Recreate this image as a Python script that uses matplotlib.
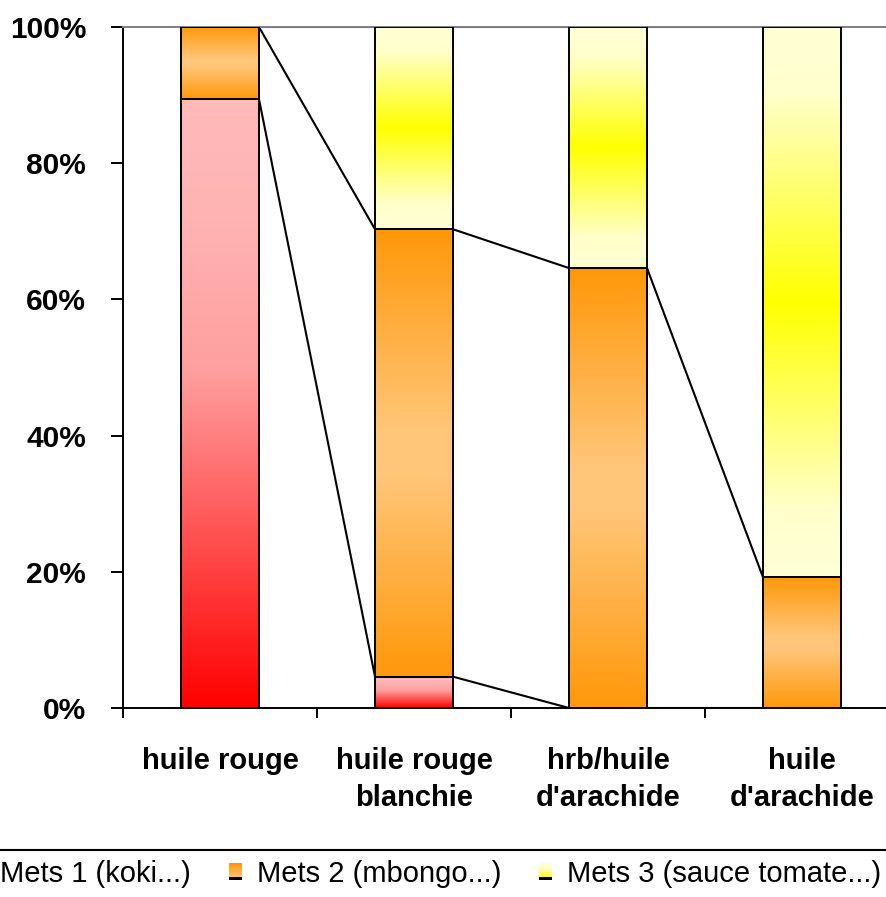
import numpy as np
import matplotlib
matplotlib.use('Agg')
import matplotlib.pyplot as plt
from matplotlib.colors import LinearSegmentedColormap
from matplotlib.patches import Rectangle
from matplotlib.legend_handler import HandlerBase
from matplotlib.lines import Line2D

plt.rcParams['font.family'] = ['Liberation Sans', 'DejaVu Sans']

# Share of each dish per oil type (%)
categories = ['huile rouge', 'huile rouge\nblanchie', "hrb/huile\nd'arachide", "huile\nd'arachide"]
mets1 = [89.4, 4.6, 0.0, 0.0]
mets2 = [10.6, 65.7, 64.6, 19.2]
mets3 = [0.0, 29.7, 35.4, 80.8]
series_names = ['Mets 1 (koki...)', 'Mets 2 (mbongo...)', 'Mets 3 (sauce tomate...)']
y_ticks = [0, 20, 40, 60, 80, 100]

# vertical fill gradients, bottom -> top
cmaps = [
    LinearSegmentedColormap.from_list('m1', [(0, '#ff0000'), (0.55, '#ff9e9e'),
                                             (0.8, '#ffb3b3'), (1, '#ffbaba')]),
    LinearSegmentedColormap.from_list('m2', [(0, '#ff980a'), (0.45, '#ffc679'),
                                             (0.55, '#ffc679'), (1, '#ff980a')]),
    LinearSegmentedColormap.from_list('m3', [(0, '#ffffd6'), (0.12, '#ffffcc'), (0.5, '#ffff00'),
                                             (0.88, '#ffffcc'), (1, '#ffffd6')]),
]


class GradientHandler(HandlerBase):
    def __init__(self, cmap):
        super().__init__()
        self.cmap = cmap

    def create_artists(self, legend, orig_handle, xdescent, ydescent,
                       width, height, fontsize, trans):
        arts = []
        n = 8
        for k in range(n):
            arts.append(Rectangle((-xdescent, -ydescent + height * k / n), width, height / n,
                                  facecolor=self.cmap(0.5 + 0.5 * k / (n - 1)),
                                  edgecolor='none', transform=trans))
        arts.append(Rectangle((-xdescent, -ydescent), width, height * 0.2,
                              facecolor='black', edgecolor='none', transform=trans))
        return arts


fig = plt.figure(figsize=(8.87, 8.97), dpi=100)
ax = fig.add_axes([123 / 887, 189 / 897, 776 / 887, 681 / 897])

x = np.arange(len(categories))
width = 0.402
series = [mets1, mets2, mets3]
bottoms = np.zeros(len(categories))
tops = []
grad = np.linspace(0, 1, 256).reshape(-1, 1)
for vals, cmap in zip(series, cmaps):
    bars = ax.bar(x, vals, width, bottom=bottoms, facecolor='none',
                  edgecolor='black', linewidth=1.4, zorder=4)
    for b in bars:
        if b.get_height() <= 0:
            b.set_visible(False)
            continue
        x0, y0 = b.get_x(), b.get_y()
        ax.imshow(grad, cmap=cmap, origin='lower', aspect='auto', zorder=3,
                  extent=(x0, x0 + b.get_width(), y0, y0 + b.get_height()))
    bottoms = bottoms + np.array(vals)
    tops.append(bottoms.copy())

# series lines between neighbouring bars
for level in tops:
    for i in range(len(categories) - 1):
        ax.plot([x[i] + width / 2, x[i + 1] - width / 2], [level[i], level[i + 1]],
                color='black', linewidth=1.5, zorder=2)

ax.set_xlim(-0.5, len(categories) - 0.5)
ax.set_ylim(0, 100)

ax.set_yticks(y_ticks)
ax.set_yticklabels([f'{v}%' for v in y_ticks], fontsize=21.5, fontweight='bold')
ax.tick_params(axis='y', direction='out', length=8.5, width=1.4, pad=18)

ax.set_xticks(np.arange(-0.5, len(categories)), labels=[''] * (len(categories) + 1))
ax.set_xticks(x, labels=categories, minor=True)
ax.tick_params(axis='x', which='major', direction='out', length=7, width=1.4)
ax.tick_params(axis='x', which='minor', length=0, pad=28)
for lbl in ax.get_xticklabels(minor=True):
    lbl.set_fontsize(21)
    lbl.set_fontweight('bold')
    lbl.set_linespacing(1.4)

for side in ['left', 'bottom']:
    ax.spines[side].set_linewidth(1.4)
ax.spines['top'].set_color('#808080')
ax.spines['top'].set_linewidth(1.4)
ax.spines['right'].set_visible(False)

# legend separator line and legend
fig.add_artist(Line2D([0, 1], [1 - 850 / 897, 1 - 850 / 897], color='black',
                      linewidth=1.5, transform=fig.transFigure))
handles = [Rectangle((0, 0), 1, 1) for _ in series_names]
fig.legend(handles, series_names, loc='center', bbox_to_anchor=(0.481, 1 - 874 / 897),
           ncol=3, frameon=False, fontsize=21, handlelength=0.45, handleheight=0.55,
           handletextpad=0.5, columnspacing=1.3,
           handler_map={h: GradientHandler(c) for h, c in zip(handles, cmaps)})

fig.savefig('out.png', dpi=100)
